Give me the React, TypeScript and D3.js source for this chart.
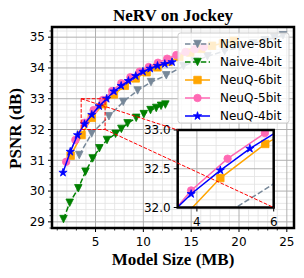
import React from 'react';
import * as d3 from 'd3';

const naive8Size = [3.3, 4.6, 6.4, 7.9, 9.4, 10.8, 12.4, 14.2, 15.4, 16.7, 18.5, 20.1, 21.5, 22.7, 23.7, 24.6];
const naive8Psnr = [31.17, 31.87, 32.43, 32.9, 33.27, 33.54, 33.76, 34.06, 34.22, 34.38, 34.55, 34.68, 34.8, 34.9, 34.98, 35.06];
const naive4Size = [1.65, 2.3, 3.2, 3.95, 4.7, 5.4, 6.2, 7.1, 7.7, 8.35, 9.25, 10.05, 10.75, 11.35, 11.85, 12.3];
const naive4Psnr = [29.09, 29.62, 30.09, 30.63, 31.06, 31.39, 31.66, 31.86, 32.02, 32.2, 32.38, 32.5, 32.63, 32.7, 32.77, 32.81];
const neuq6Size = [2.4, 3.54, 4.61, 5.78, 6.92, 8.06, 9.2, 10.34, 11.48, 12.62, 13.76, 14.9, 16.04, 17.18, 18.32, 19.46];
const neuq6Psnr = [31.15, 31.82, 32.38, 32.82, 33.14, 33.42, 33.66, 33.86, 34.02, 34.2, 34.36, 34.5, 34.62, 34.72, 34.8, 34.88];
const neuq5Size = [1.93, 2.89, 3.85, 4.8, 5.77, 6.73, 7.69, 8.65, 9.61, 10.57, 11.53, 12.49, 13.45, 14.41, 15.37, 16.33];
const neuq5Psnr = [30.95, 31.66, 32.22, 32.63, 32.96, 33.25, 33.5, 33.7, 33.88, 34.03, 34.17, 34.3, 34.42, 34.52, 34.61, 34.68];
const neuq4Size = [1.6, 2.36, 3.12, 3.85, 4.61, 5.38, 6.16, 6.92, 7.68, 8.44, 9.2, 9.96, 10.72, 11.48, 12.24, 13.0];
const neuq4Psnr = [30.6, 31.28, 31.82, 32.175, 32.48, 32.76, 33.0, 33.24, 33.42, 33.58, 33.74, 33.88, 33.98, 34.07, 34.13, 34.19];

const seriesNames = ['Naive-8bit', 'Naive-4bit', 'NeuQ-6bit', 'NeuQ-5bit', 'NeuQ-4bit'];
const xTicks = [5, 10, 15, 20, 25];
const yTicks = [29, 30, 31, 32, 33, 34, 35];
const insetXTicks = [4, 6];
const insetYTicks = [32.0, 32.5, 33.0];
const zoomX = [3.5, 6];
const zoomY = [32, 33];

const series = [
  { name: seriesNames[0], xs: naive8Size, ys: naive8Psnr, color: '#778899', marker: 'v', dashed: true },
  { name: seriesNames[1], xs: naive4Size, ys: naive4Psnr, color: '#008000', marker: 'v', dashed: true },
  { name: seriesNames[2], xs: neuq6Size, ys: neuq6Psnr, color: '#FFA500', marker: 's', dashed: false },
  { name: seriesNames[3], xs: neuq5Size, ys: neuq5Psnr, color: '#FF69B4', marker: 'o', dashed: false },
  { name: seriesNames[4], xs: neuq4Size, ys: neuq4Psnr, color: '#0000FF', marker: '*', dashed: false },
];

const MS = 7.5;

function markerPath(type: string): string {
  const h = MS / 2;
  if (type === 'v') return `M${-h},${-h}L${h},${-h}L0,${h}Z`;
  if (type === 's') return `M${-h},${-h}H${h}V${h}H${-h}Z`;
  if (type === 'o') return `M${h},0A${h},${h} 0 1,1 ${-h},0A${h},${h} 0 1,1 ${h},0Z`;
  // star
  const R = h * 1.15;
  const r = R * 0.381966;
  let p = '';
  for (let i = 0; i < 10; i++) {
    const rad = i % 2 === 0 ? R : r;
    const a = -Math.PI / 2 + (i * Math.PI) / 5;
    p += (i === 0 ? 'M' : 'L') + (rad * Math.cos(a)).toFixed(2) + ',' + (rad * Math.sin(a)).toFixed(2);
  }
  return p + 'Z';
}

function range(a: number, b: number, step: number): number[] {
  const out: number[] = [];
  for (let v = a; v <= b + 1e-9; v += step) out.push(Math.round(v * 1000) / 1000);
  return out;
}

export default function App() {
  const W = 304, H = 278;
  const L = 52, R = 294, T = 27, B = 228;
  const x = d3.scaleLinear().domain([0.45, 25.75]).range([L, R]);
  const y = d3.scaleLinear().domain([28.8, 35.33]).range([B, T]);

  const iL = 177.7, iR = 273.7, iT = 130, iB = 207.5;
  const ix = d3.scaleLinear().domain(zoomX).range([iL, iR]);
  const iy = d3.scaleLinear().domain(zoomY).range([iB, iT]);

  const xMinor = range(1, 25, 1).filter((v) => v % 5 !== 0);
  const yMinor = range(28.8, 35.2, 0.2).filter((v) => Math.abs(v - Math.round(v)) > 0.01);
  const ixMinor = range(3.5, 6, 0.5).filter((v) => v !== 4 && v !== 6);
  const iyMinor = range(32, 33, 0.1).filter((v) => ![32, 32.5, 33].some((t) => Math.abs(t - v) < 0.01));

  const dashLine = '5.5,2.4';
  const tickFont = { fontFamily: 'DejaVu Sans', fontSize: 12, fill: '#000' } as const;

  const renderSeries = (sx: any, sy: any, clipId: string) =>
    series.map((s) => {
      const pts = s.xs.map((v, i) => [sx(v), sy(s.ys[i])] as [number, number]);
      const line = d3.line()(pts) || '';
      return (
        <g key={s.name} clipPath={`url(#${clipId})`}>
          <path d={line} fill="none" stroke={s.color} strokeWidth={1.5} strokeDasharray={s.dashed ? dashLine : undefined} />
          {pts.map((p, i) => (
            <path key={i} d={markerPath(s.marker)} transform={`translate(${p[0]},${p[1]})`} fill={s.color} stroke={s.color} strokeWidth={0.8} />
          ))}
        </g>
      );
    });

  const legX = 178, legY = 33, legW = 111, legH = 90;

  return (
    <svg width={W} height={H} style={{ position: 'absolute', left: 0, top: 0, background: '#fff' }}>
      <defs>
        <clipPath id="mainClip"><rect x={L} y={T} width={R - L} height={B - T} /></clipPath>
        <clipPath id="insetClip"><rect x={iL} y={iT} width={iR - iL} height={iB - iT} /></clipPath>
      </defs>
      <rect x={0} y={0} width={W} height={H} fill="#fff" />
      {/* main grid */}
      {xMinor.map((v) => <line key={'xm' + v} x1={x(v)} x2={x(v)} y1={T} y2={B} stroke="#e2e2e2" strokeWidth={0.8} />)}
      {yMinor.map((v) => <line key={'ym' + v} x1={L} x2={R} y1={y(v)} y2={y(v)} stroke="#e2e2e2" strokeWidth={0.8} />)}
      {xTicks.map((v) => <line key={'xg' + v} x1={x(v)} x2={x(v)} y1={T} y2={B} stroke="#b0b0b0" strokeWidth={1} />)}
      {yTicks.map((v) => <line key={'yg' + v} x1={L} x2={R} y1={y(v)} y2={y(v)} stroke="#b0b0b0" strokeWidth={1} />)}
      {renderSeries(x, y, 'mainClip')}
      {/* zoom rectangle */}
      <rect x={x(zoomX[0])} y={y(zoomY[1])} width={x(zoomX[1]) - x(zoomX[0])} height={y(zoomY[0]) - y(zoomY[1])} fill="none" stroke="#ff0000" strokeWidth={1} strokeDasharray="3.7,1.6" />
      {/* legend */}
      <rect x={legX} y={legY} width={legW} height={legH} rx={2.5} fill="#fff" fillOpacity={0.8} stroke="#cccccc" strokeWidth={1} />
      {series.map((s, i) => {
        const cy = 44 + i * 18;
        return (
          <g key={'leg' + s.name}>
            <line x1={185} x2={210} y1={cy} y2={cy} stroke={s.color} strokeWidth={1.5} strokeDasharray={s.dashed ? dashLine : undefined} />
            <path d={markerPath(s.marker)} transform={`translate(197.5,${cy})`} fill={s.color} stroke={s.color} strokeWidth={0.8} />
            <text x={220} y={cy} dy="0.36em" {...tickFont}>{s.name}</text>
          </g>
        );
      })}
      {/* main frame */}
      <rect x={L} y={T} width={R - L} height={B - T} fill="none" stroke="#000" strokeWidth={2.5} />
      {/* main ticks */}
      {xMinor.map((v) => <line key={'xmt' + v} x1={x(v)} x2={x(v)} y1={B} y2={B + 2.5} stroke="#000" strokeWidth={0.8} />)}
      {yMinor.map((v) => <line key={'ymt' + v} x1={L} x2={L - 2.5} y1={y(v)} y2={y(v)} stroke="#000" strokeWidth={0.8} />)}
      {xTicks.map((v) => (
        <g key={'xt' + v}>
          <line x1={x(v)} x2={x(v)} y1={B} y2={B + 4} stroke="#000" strokeWidth={1} />
          <text x={x(v)} y={245.5} textAnchor="middle" {...tickFont}>{v}</text>
        </g>
      ))}
      {yTicks.map((v) => (
        <g key={'yt' + v}>
          <line x1={L} x2={L - 4} y1={y(v)} y2={y(v)} stroke="#000" strokeWidth={1} />
          <text x={45} y={y(v)} dy="0.36em" textAnchor="end" {...tickFont}>{v}</text>
        </g>
      ))}
      {/* inset */}
      <rect x={iL} y={iT} width={iR - iL} height={iB - iT} fill="#fff" />
      {ixMinor.map((v) => <line key={'ixm' + v} x1={ix(v)} x2={ix(v)} y1={iT} y2={iB} stroke="#e2e2e2" strokeWidth={0.8} />)}
      {iyMinor.map((v) => <line key={'iym' + v} x1={iL} x2={iR} y1={iy(v)} y2={iy(v)} stroke="#e2e2e2" strokeWidth={0.8} />)}
      {insetXTicks.map((v) => <line key={'ixg' + v} x1={ix(v)} x2={ix(v)} y1={iT} y2={iB} stroke="#b0b0b0" strokeWidth={1} />)}
      {insetYTicks.map((v) => <line key={'iyg' + v} x1={iL} x2={iR} y1={iy(v)} y2={iy(v)} stroke="#b0b0b0" strokeWidth={1} />)}
      {renderSeries(ix, iy, 'insetClip')}
      <rect x={iL} y={iT} width={iR - iL} height={iB - iT} fill="none" stroke="#000" strokeWidth={2.5} />
      {insetXTicks.map((v) => (
        <g key={'ixt' + v}>
          <line x1={ix(v)} x2={ix(v)} y1={iB} y2={iB + 4} stroke="#000" strokeWidth={1} />
          <text x={ix(v)} y={226} textAnchor="middle" {...tickFont}>{v}</text>
        </g>
      ))}
      {insetYTicks.map((v) => (
        <g key={'iyt' + v}>
          <line x1={iL} x2={iL - 4} y1={iy(v)} y2={iy(v)} stroke="#000" strokeWidth={1} />
          <text x={iL - 7} y={iy(v)} dy="0.36em" textAnchor="end" {...tickFont}>{v.toFixed(1)}</text>
        </g>
      ))}
      {/* connectors */}
      <line x1={x(zoomX[0])} y1={y(zoomY[1])} x2={iL} y2={iT} stroke="#ff0000" strokeWidth={1} strokeDasharray="3.7,1.6" />
      <line x1={x(zoomX[1])} y1={y(zoomY[0])} x2={iR} y2={iB} stroke="#ff0000" strokeWidth={1} strokeDasharray="3.7,1.6" />
      {/* titles */}
      <text x={(L + R) / 2} y={20.5} textAnchor="middle" fontFamily="Liberation Serif" fontWeight="bold" fontSize={17}>NeRV on Jockey</text>
      <text x={(L + R) / 2} y={265} textAnchor="middle" fontFamily="Liberation Serif" fontWeight="bold" fontSize={17}>Model Size (MB)</text>
      <text transform={`translate(21,128.5) rotate(-90)`} textAnchor="middle" fontFamily="Liberation Serif" fontWeight="bold" fontSize={17}>PSNR (dB)</text>
    </svg>
  );
}
